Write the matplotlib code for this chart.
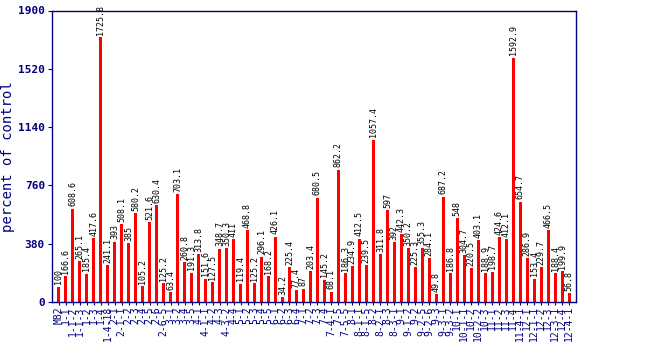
import matplotlib
matplotlib.use("Agg")
import matplotlib.pyplot as plt

categories = ["M82", "1-1", "1-1-2", "1-1-3", "1-2", "1-3", "1-4", "1-4-18",
              "2-1", "2-1-1", "2-2", "2-3", "2-4", "2-5", "2-6", "2-6-5",
              "3-1", "3-2", "3-4", "3-5",
              "4-1", "4-1-1", "4-2", "4-3", "4-3-2", "4-4",
              "5-1", "5-2", "5-3", "5-4", "5-5",
              "6-1", "6-2", "6-3", "6-4",
              "7-1", "7-2", "7-3", "7-4", "7-4-1", "7-5", "7-5-5",
              "8-1", "8-1-1", "8-1-5", "8-2", "8-2-1", "8-3", "8-3-1",
              "9-1", "9-1-2", "9-2", "9-2-5", "9-2-6", "9-3", "9-3-1", "9-3-2",
              "10-1", "10-1-1", "10-2", "10-2-2", "10-3",
              "11-1", "11-2", "11-3", "11-4", "11-4-1",
              "12-1", "12-1-1", "12-2", "12-3", "12-3-1", "12-4", "12-4-1"]

values = [100, 166.6, 608.6, 265.1, 185.4, 417.6, 1725.8, 241.1, 393, 508.1,
          385, 580.2, 105.2, 521.6, 630.4, 125.2, 63.4, 703.1, 260.8, 191.3,
          313.8, 151.6, 127.5, 348.7, 350.3, 411, 119.4, 468.8, 125.2, 296.1,
          168.2, 426.1, 34.2, 225.4, 77.4, 87, 203.4, 680.5, 145.2, 68.1,
          862.2, 186.3, 234.9, 412.5, 239.5, 1057.4, 311.8, 597, 392, 442.3,
          350.2, 225.3, 355.3, 284.1, 49.8, 687.2, 186.8, 548, 304.7, 220.5,
          403.1, 188.9, 198.7, 424.6, 412.1, 1592.9, 654.7, 286.9, 153.4, 229.7,
          466.5, 188.4, 199.9, 56.8]

yticks = [0, 380, 760, 1140, 1520, 1900]

navy = "#000080"
mono = "DejaVu Sans Mono"

fig = plt.figure(figsize=(6.5, 3.5), dpi=100)
ax = fig.add_axes([0.08, 0.137, 0.806, 0.833])

x = list(range(len(values)))
ax.bar(x, values, width=0.45, color="#ff0000", zorder=2)

for xi, v in zip(x, values):
    ax.text(xi, v + 15, f"{v:g}", rotation=90, ha="center", va="bottom",
            fontsize=6, family=mono, color="black")

ax.set_xlim(-0.95, len(values) - 0.05)
ax.set_ylim(0, 1900)
ax.set_yticks(yticks)
ax.set_yticklabels([str(t) for t in yticks], family=mono, fontweight="bold",
                   fontsize=8, color=navy)
ax.set_xticks(x)
ax.set_xticklabels(categories, rotation=90, family=mono, fontsize=7,
                   color=navy)
ax.tick_params(axis="y", length=3, color=navy, pad=2)
ax.tick_params(axis="x", length=2, color=navy, pad=1)
for s in ax.spines.values():
    s.set_color(navy)
    s.set_linewidth(1)

ax.set_ylabel("percent of control", family=mono, fontsize=10, color=navy,
              labelpad=2)

fig.savefig("out.png", dpi=100)
